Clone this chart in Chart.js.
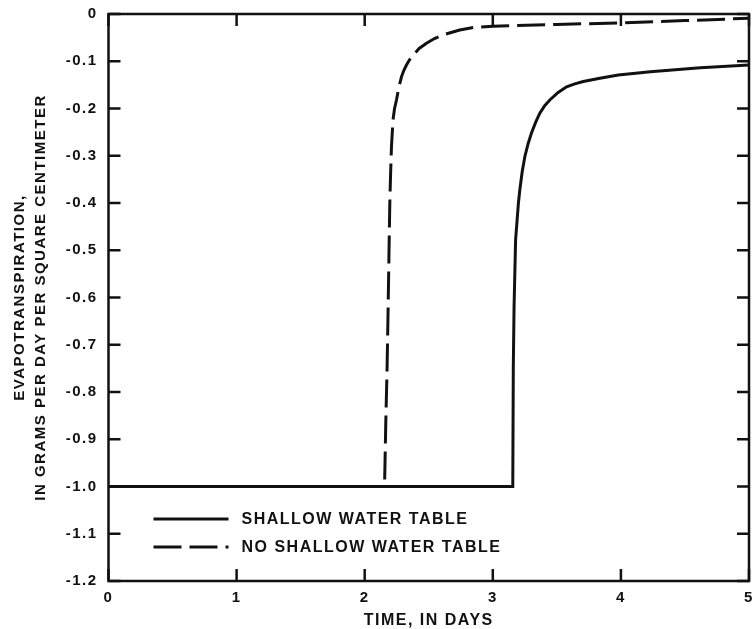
<!DOCTYPE html>
<html>
<head>
<meta charset="utf-8">
<title>Evapotranspiration over time</title>
<script src="https://cdn.jsdelivr.net/npm/chart.js@4.4.1/dist/chart.umd.min.js"></script>
<style>
  html, body { margin: 0; padding: 0; background: #fff; }
  #wrap { width: 754px; height: 629px; }
</style>
</head>
<body>
<div id="wrap"><canvas id="chart" width="754" height="629"></canvas></div>
<script>
// Time axis (days) and evapotranspiration (g/day/cm²) for each case
const shallowTime = [0, 3.156, 3.16, 3.166, 3.178, 3.20, 3.211, 3.23, 3.25, 3.275, 3.302, 3.335, 3.367, 3.405, 3.445, 3.51, 3.576, 3.64, 3.706, 3.836, 3.98, 4.23, 4.62, 5.0];
const shallowEvap = [-1.0, -1.0, -0.75, -0.62, -0.478, -0.40, -0.372, -0.333, -0.302, -0.275, -0.252, -0.229, -0.210, -0.194, -0.182, -0.166, -0.154, -0.148, -0.143, -0.136, -0.129, -0.122, -0.114, -0.108];

const noShallowTime = [2.156, 2.165, 2.175, 2.183, 2.19, 2.196, 2.203, 2.209, 2.221, 2.233, 2.248, 2.266, 2.287, 2.306, 2.326, 2.35, 2.378, 2.425, 2.482, 2.545, 2.612, 2.742, 2.86, 3.0, 3.5, 4.0, 4.5, 5.0];
const noShallowEvap = [-0.985, -0.86, -0.746, -0.62, -0.499, -0.40, -0.33, -0.281, -0.224, -0.20, -0.182, -0.156, -0.133, -0.119, -0.108, -0.097, -0.087, -0.073, -0.062, -0.052, -0.044, -0.034, -0.028, -0.026, -0.022, -0.019, -0.014, -0.009];

const seriesLabels = ['SHALLOW WATER TABLE', 'NO SHALLOW WATER TABLE'];
const xTickLabels = ['0', '1', '2', '3', '4', '5'];
const yTickLabels = ['0', '-0.1', '-0.2', '-0.3', '-0.4', '-0.5', '-0.6', '-0.7', '-0.8', '-0.9', '-1.0', '-1.1', '-1.2'];

const INK = '#111';
const FONT = "'Liberation Sans', Arial, Helvetica, sans-serif";
const TRACKING = '1.5px';

const toPoints = (xs, ys) => xs.map((x, i) => ({ x: x, y: ys[i] }));

// Widen letter spacing for every piece of text the chart lays out and draws
const tracking = {
  id: 'tracking',
  beforeUpdate(chart) { chart.ctx.letterSpacing = TRACKING; },
  beforeDraw(chart) { chart.ctx.letterSpacing = TRACKING; }
};

// Frame on all four sides with inward-pointing tick marks
const framePlugin = {
  id: 'frame',
  afterDraw(chart) {
    const { ctx, chartArea: a, scales } = chart;
    const len = 12;
    ctx.save();
    ctx.strokeStyle = INK;
    ctx.lineWidth = 2.5;
    ctx.lineCap = 'square';
    ctx.strokeRect(a.left, a.top, a.right - a.left, a.bottom - a.top);
    ctx.lineCap = 'butt';
    ctx.beginPath();
    scales.x.ticks.forEach(t => {
      const px = scales.x.getPixelForValue(t.value);
      ctx.moveTo(px, a.bottom); ctx.lineTo(px, a.bottom - len);
      ctx.moveTo(px, a.top); ctx.lineTo(px, a.top + len);
    });
    scales.y.ticks.forEach(t => {
      const py = scales.y.getPixelForValue(t.value);
      ctx.moveTo(a.left, py); ctx.lineTo(a.left + len, py);
      ctx.moveTo(a.right, py); ctx.lineTo(a.right - len, py);
    });
    ctx.stroke();
    ctx.restore();
  }
};

// Legend drawn inside the plot, lower left
const insideLegend = {
  id: 'insideLegend',
  afterDatasetsDraw(chart) {
    const { ctx, chartArea: a } = chart;
    ctx.save();
    ctx.font = 'bold 16px ' + FONT;
    ctx.letterSpacing = TRACKING;
    ctx.fillStyle = INK;
    ctx.textBaseline = 'middle';
    chart.data.datasets.forEach((ds, i) => {
      const y = a.bottom - 62 + i * 28;
      const x0 = a.left + 45;
      ctx.beginPath();
      ctx.strokeStyle = ds.borderColor;
      ctx.lineWidth = ds.borderWidth;
      ctx.setLineDash(ds.borderDash || []);
      ctx.moveTo(x0, y);
      ctx.lineTo(x0 + 75, y);
      ctx.stroke();
      ctx.setLineDash([]);
      ctx.fillText(ds.label, x0 + 88, y + 1);
    });
    ctx.restore();
  }
};

new Chart(document.getElementById('chart'), {
  type: 'line',
  data: {
    datasets: [
      {
        label: seriesLabels[0],
        data: toPoints(shallowTime, shallowEvap),
        borderColor: INK,
        borderWidth: 3,
        pointRadius: 0,
        tension: 0,
        fill: false
      },
      {
        label: seriesLabels[1],
        data: toPoints(noShallowTime, noShallowEvap),
        borderColor: INK,
        borderWidth: 3,
        borderDash: [28, 8],
        pointRadius: 0,
        tension: 0,
        fill: false
      }
    ]
  },
  options: {
    responsive: false,
    animation: false,
    layout: { padding: { left: 0, top: 14, right: 5, bottom: 0 } },
    plugins: {
      legend: { display: false },
      tooltip: { enabled: false }
    },
    scales: {
      x: {
        type: 'linear',
        min: 0,
        max: 5,
        afterFit(scale) {
          scale.height = 48;
          scale.paddingLeft = 0;
          scale.paddingRight = 0;
        },
        grid: { display: false, drawTicks: false },
        border: { display: false },
        ticks: {
          stepSize: 1,
          padding: 8,
          color: INK,
          font: { family: FONT, size: 15, weight: 'bold' },
          maxRotation: 0,
          callback: v => xTickLabels[Math.round(v)]
        },
        title: {
          display: true,
          text: 'TIME, IN DAYS',
          color: INK,
          font: { family: FONT, size: 16, weight: 'bold', lineHeight: 1 },
          padding: { top: 0, bottom: 0 }
        }
      },
      y: {
        type: 'linear',
        min: -1.2,
        max: 0,
        afterFit(scale) {
          scale.width = 108.5;
          scale.paddingTop = 0;
          scale.paddingBottom = 0;
        },
        grid: { display: false, drawTicks: false },
        border: { display: false },
        ticks: {
          stepSize: 0.1,
          padding: 11,
          color: INK,
          font: { family: FONT, size: 15, weight: 'bold' },
          callback: v => yTickLabels[Math.round(-v * 10)]
        },
        title: {
          display: true,
          text: ['EVAPOTRANSPIRATION,', 'IN GRAMS PER DAY PER SQUARE CENTIMETER'],
          color: INK,
          font: { family: FONT, size: 15, weight: 'bold', lineHeight: 1.4 },
          padding: { top: 9.5, bottom: 0 }
        }
      }
    }
  },
  plugins: [tracking, framePlugin, insideLegend]
});
</script>
</body>
</html>
